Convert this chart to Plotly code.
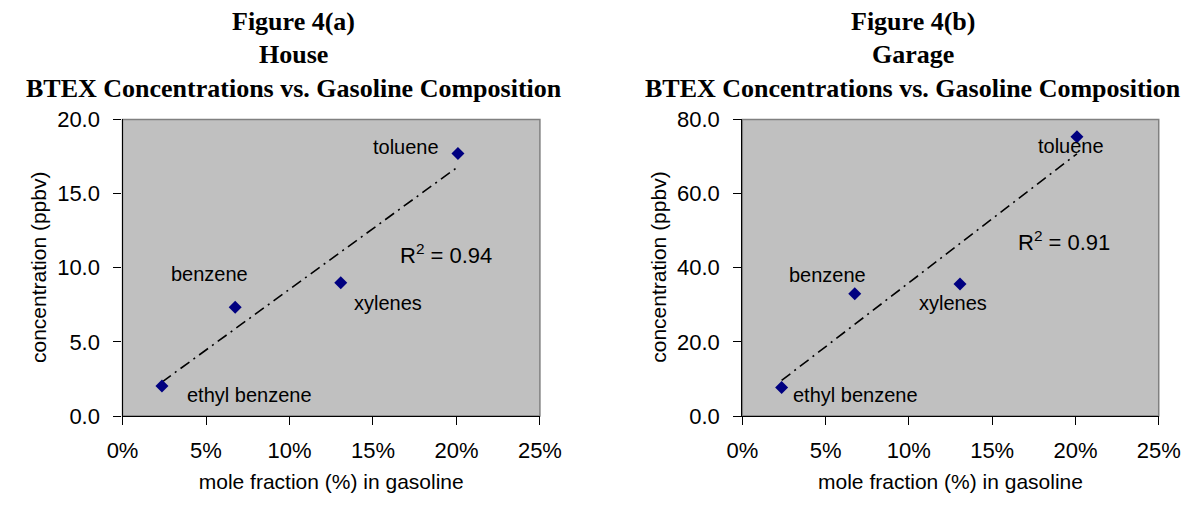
import numpy as np
import plotly.graph_objects as go

W, H = 1203, 508

# ---------------- data ----------------
compounds = ["ethyl benzene", "benzene", "xylenes", "toluene"]
mole_fraction = [0.0236, 0.0675, 0.1307, 0.2009]      # fraction in gasoline
house_ppbv = [2.03, 7.33, 8.99, 17.70]
garage_ppbv = [7.74, 32.97, 35.60, 75.30]
r2_text = ["0.94", "0.91"]
titles = [["Figure 4(a)", "House", "BTEX Concentrations vs. Gasoline Composition"],
          ["Figure 4(b)", "Garage", "BTEX Concentrations vs. Gasoline Composition"]]
x_ticks = [0, 0.05, 0.10, 0.15, 0.20, 0.25]
y_ticks_house = [0, 5, 10, 15, 20]
y_ticks_garage = [0, 20, 40, 60, 80]

# ---------------- layout helpers ----------------
def px_x(p):
    return p / W

def px_y(p):
    return 1 - p / H

PLOT_TOP, PLOT_BOT = 113, 425
panels = [
    dict(xa="x", ya="y", xd=(110, 541), y=house_ppbv, yt=y_ticks_house, yr=20,
         title_cx=287, ytitle_x=24,
         lab_shift={"toluene": (-52, 7), "benzene": (-26, 33), "xylenes": (47, -20), "ethyl benzene": (88, -9)},
         r2_pos=(444, 254)),
    dict(xa="x2", ya="y2", xd=(750, 1180), y=garage_ppbv, yt=y_ticks_garage, yr=80,
         title_cx=926, ytitle_x=664,
         lab_shift={"toluene": (-6, -9), "benzene": (-27, 19), "xylenes": (-7, -19), "ethyl benzene": (74, -8)},
         r2_pos=(1082, 241)),
]

SANS = "Liberation Sans, Arial, sans-serif"
SERIF = "Liberation Serif, Times New Roman, serif"

fig = go.Figure()
annotations = []
shapes = []
layout_axes = {}

for i, p in enumerate(panels):
    xa, ya = p["xa"], p["ya"]
    xs = np.array(mole_fraction)
    ys = np.array(p["y"])
    # trendline from least squares fit
    slope, intercept = np.polyfit(xs, ys, 1)
    tx = np.array([xs.min(), xs.max()])
    fig.add_trace(go.Scatter(x=tx, y=slope * tx + intercept, mode="lines",
                             line=dict(color="black", width=1.6, dash="11px,5px,2px,5px"),
                             xaxis=xa, yaxis=ya, showlegend=False, hoverinfo="skip"))
    fig.add_trace(go.Scatter(x=xs, y=ys, mode="markers",
                             marker=dict(symbol="diamond", size=10, color="#000080"),
                             xaxis=xa, yaxis=ya, showlegend=False))
    for name, xv, yv in zip(compounds, xs, ys):
        dx, dy = p["lab_shift"][name]
        annotations.append(dict(x=xv, y=yv, xref=xa, yref=ya, text=name, showarrow=False,
                                xanchor="center", yanchor="middle",
                                xshift=dx, yshift=dy, font=dict(family=SANS, size=20, color="black")))
    annotations.append(dict(x=px_x(p["r2_pos"][0]), y=px_y(p["r2_pos"][1]), xref="paper", yref="paper",
                            xanchor="center", yanchor="middle",
                            text="R<sup>2</sup> = " + r2_text[i], showarrow=False,
                            font=dict(family=SANS, size=22, color="black")))
    # titles
    for k, line in enumerate(titles[i]):
        annotations.append(dict(x=px_x(p["title_cx"]), y=px_y(21 + 35 * k), xref="paper", yref="paper",
                                text="<b>" + line + "</b>", showarrow=False, xanchor="center",
                                yanchor="bottom", yshift=-6,
                                font=dict(family=SERIF, size=26, color="black")))
    # y axis title
    annotations.append(dict(x=px_x(p["ytitle_x"]), y=px_y((PLOT_TOP + PLOT_BOT) / 2), xref="paper", yref="paper",
                            xanchor="center", yanchor="middle",
                            text="concentration (ppbv)", textangle=-90, showarrow=False,
                            font=dict(family=SANS, size=21, color="black")))
    # plot area border
    shapes.append(dict(type="rect", xref=xa + " domain", yref=ya + " domain", x0=0, x1=1, y0=0, y1=1,
                       line=dict(color="#808080", width=1.5), layer="below"))
    sfx = "" if i == 0 else "2"
    layout_axes["xaxis" + sfx] = dict(
        domain=[px_x(p["xd"][0]), px_x(p["xd"][1])], range=[0, 0.25], tickvals=x_ticks,
        tickformat=".0%", ticks="outside", ticklen=8, tickcolor="black", showline=True,
        linecolor="black", linewidth=1.3, showgrid=False, zeroline=False, anchor=ya,
        ticklabelstandoff=6,
        tickfont=dict(family=SANS, size=22, color="black"),
        title=dict(text="mole fraction (%) in gasoline", standoff=12,
                   font=dict(family=SANS, size=21, color="black")))
    layout_axes["yaxis" + sfx] = dict(
        domain=[px_y(PLOT_BOT), px_y(PLOT_TOP)], range=[0, p["yr"]], tickvals=p["yt"],
        tickformat=".1f", ticks="outside", ticklen=8, tickcolor="black", showline=True,
        linecolor="black", linewidth=1.3, showgrid=False, zeroline=False, anchor=xa,
        ticklabelstandoff=9,
        tickfont=dict(family=SANS, size=22, color="black"))

fig.update_layout(width=W, height=H, margin=dict(l=0, r=0, t=0, b=0),
                  paper_bgcolor="white", plot_bgcolor="#C0C0C0",
                  annotations=annotations, shapes=shapes, showlegend=False, **layout_axes)

fig.write_html("out.html")
